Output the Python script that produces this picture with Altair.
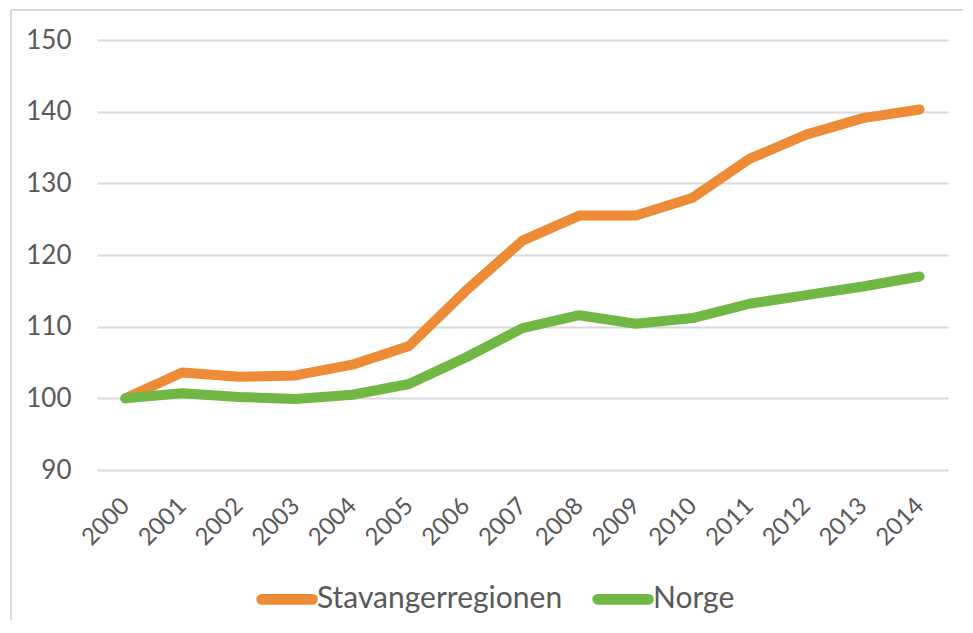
import altair as alt
import pandas as pd

years = [str(y) for y in range(2000, 2015)]
stavanger = [100, 103.6, 103.0, 103.2, 104.7, 107.3, 115.0, 122.0, 125.5, 125.5, 128.0, 133.4, 136.8, 139.1, 140.3]
norge = [100, 100.7, 100.2, 99.9, 100.5, 102.0, 105.7, 109.8, 111.6, 110.4, 111.2, 113.2, 114.4, 115.6, 117.0]
series = ["Stavangerregionen", "Norge"]
colors = ["#ED8B37", "#70B843"]
y_ticks = [90, 100, 110, 120, 130, 140, 150]

rows = []
for name, vals in zip(series, [stavanger, norge]):
    for yr, v in zip(years, vals):
        rows.append({"year": yr, "value": v, "series": name})
df = pd.DataFrame(rows)

FONT = "Lato"
LABEL = "#595959"
# thin capsule outline; stroked at width 10 it reads as a round-capped line
CAPSULE = ("M-0.68,-0.01 L1.02,-0.01 A0.01,0.01 0 0 1 1.02,0.01 "
           "L-0.68,0.01 A0.01,0.01 0 0 1 -0.68,-0.01 Z")

frame_src = alt.Chart(pd.DataFrame({"a": [0]}))
frame_top = frame_src.mark_rule(stroke="#d9d9d9", strokeWidth=2).encode(
    x=alt.value(-86), x2=alt.value(866), y=alt.value(-30)
)
frame_left = frame_src.mark_rule(stroke="#d9d9d9", strokeWidth=2).encode(
    x=alt.value(-86), y=alt.value(-30), y2=alt.value(580)
)

lines = alt.Chart(df).mark_line(strokeWidth=10, strokeCap="round", strokeJoin="round").encode(
    x=alt.X("year:O", sort=years, scale=alt.Scale(paddingInner=1, paddingOuter=0.5, padding=0.5),
            axis=alt.Axis(title=None, labelAngle=-45, labelFontSize=24, labelColor=LABEL,
                          labelFont=FONT, ticks=False, domain=False, labelPadding=32,
                          labelBaseline="middle", grid=False)),
    y=alt.Y("value:Q", scale=alt.Scale(domain=[90, 150], nice=False, zero=False),
            axis=alt.Axis(title=None, values=y_ticks, labelFontSize=26, labelColor=LABEL,
                          labelFont=FONT, ticks=False, domain=False, labelPadding=26,
                          gridColor="#d9d9d9", gridWidth=2)),
    color=alt.Color("series:N", sort=series,
                    scale=alt.Scale(domain=series, range=colors),
                    legend=alt.Legend(title=None, orient="none", direction="horizontal",
                                      legendX=150, legendY=524, symbolType=CAPSULE,
                                      symbolSize=3600, symbolStrokeWidth=10,
                                      labelFontSize=30, labelFont=FONT, labelColor=LABEL,
                                      labelOffset=0, columnPadding=14, padding=0,
                                      labelLimit=0)),
    order=alt.Order("series:N"),
)

chart = alt.layer(frame_top, frame_left, lines).properties(
    width=851, height=430,
    autosize=alt.AutoSizeParams(type="none"),
    padding={"left": 89, "top": 32, "right": 15, "bottom": 150},
    background="white",
).configure_view(stroke=None)

chart.save("out.html", embed_options={"renderer": "svg", "actions": False})
